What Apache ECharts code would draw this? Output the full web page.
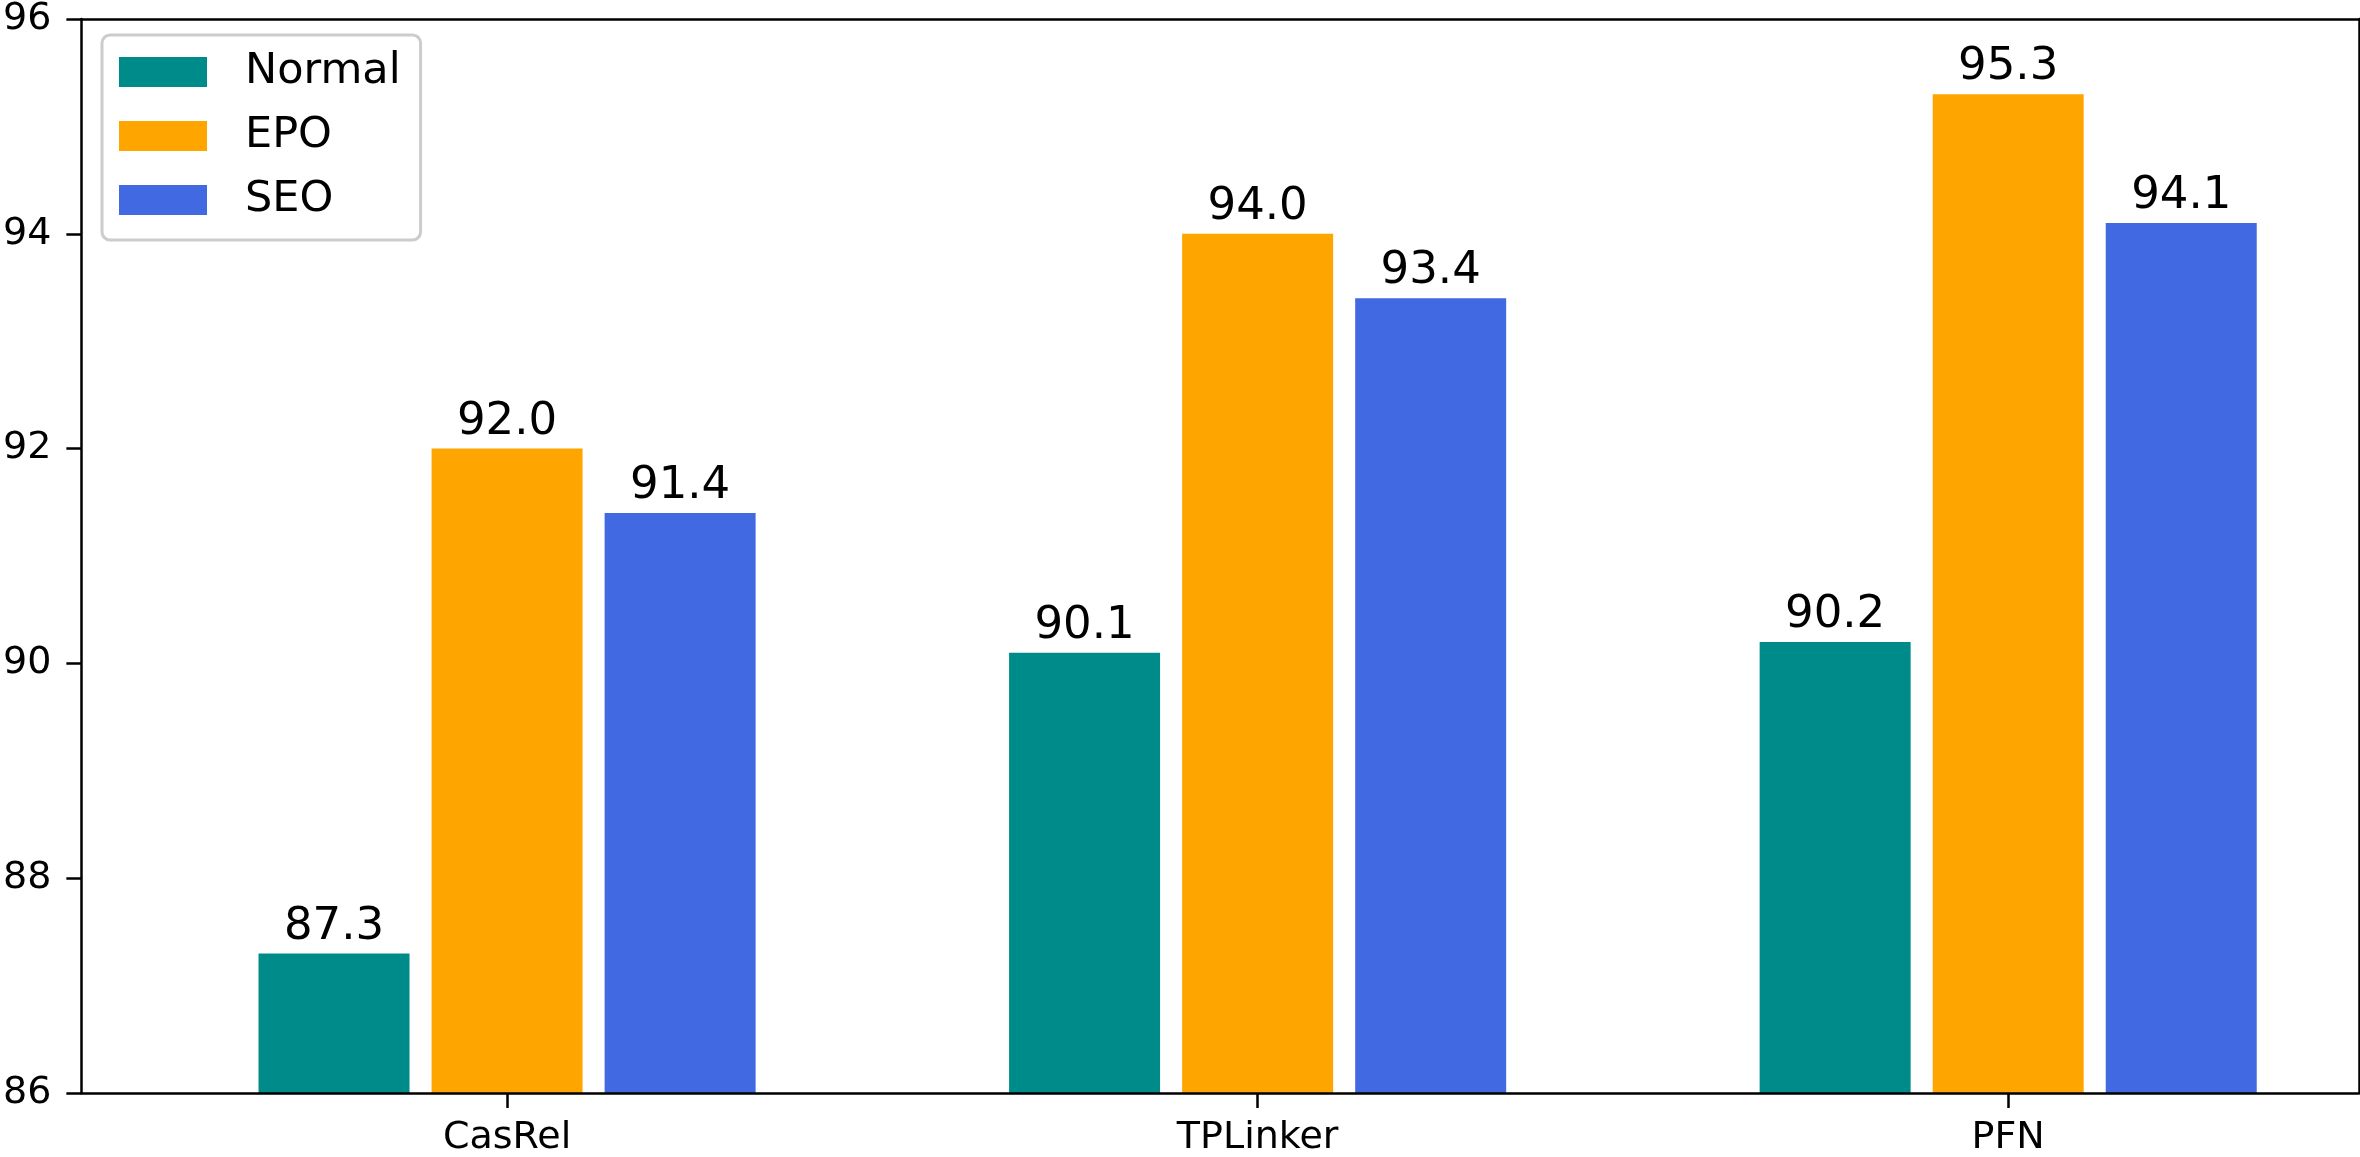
<!DOCTYPE html>
<html>
<head>
<meta charset="utf-8">
<script src="https://cdn.jsdelivr.net/npm/echarts@6/dist/echarts.min.js"></script>
<style>
  html, body { margin: 0; padding: 0; background: #fff; }
  #chart { width: 2360px; height: 1157px; }
</style>
</head>
<body>
<div id="chart"></div>
<script>
var categories = ['CasRel', 'TPLinker', 'PFN'];
var normal = [87.3, 90.1, 90.2];
var epo = [92.0, 94.0, 95.3];
var seo = [91.4, 93.4, 94.1];
var yTicks = [86, 88, 90, 92, 94, 96];
var xTicks = [0, 1, 2]; // category positions

var font = 'DejaVu Sans';
var chart = echarts.init(document.getElementById('chart'));

function barSeries(name, values, color) {
    return {
        type: 'bar',
        name: name,
        data: values.map(function (v, i) { return [xTicks[i], v] }),
        barWidth: 151,
        barGap: '14.6%',
        itemStyle: { color: color },
        label: {
            show: true,
            position: 'top',
            distance: 4,
            fontFamily: font,
            fontSize: 45,
            color: '#000',
            formatter: function (p) { return p.value[1].toFixed(1) }
        }
    }
}

var frameLine = { show: true, onZero: false, lineStyle: { color: '#000', width: 2.5 } };
var tickStyle = { color: '#000', width: 2.5 };

chart.setOption({
    animation: false,
    backgroundColor: '#fff',
    legend: {
        left: 102,
        top: 35,
        orient: 'vertical',
        padding: [15, 20, 18, 17],
        itemWidth: 88,
        itemHeight: 30,
        itemGap: 20,
        borderColor: '#cccccc',
        borderWidth: 3,
        borderRadius: 8,
        backgroundColor: '#fff',
        icon: 'rect',
        textStyle: {
            fontFamily: font,
            fontSize: 43,
            lineHeight: 44,
            color: '#000',
            padding: [0, 0, 0, 33]
        },
        data: ['Normal', 'EPO', 'SEO']
    },
    grid: { left: 80, right: 1, top: 15, bottom: 63 },
    xAxis: [
        { type: 'value', min: -0.5672, max: 2.4674, position: 'bottom', z: 10,
          axisLine: frameLine,
          axisTick: { show: true, length: 15, lineStyle: tickStyle, customValues: xTicks },
          axisLabel: { fontFamily: font, fontSize: 38, color: '#000', margin: 26,
                       customValues: xTicks,
                       formatter: function (v) { return categories[Math.round(v)] } },
          splitLine: { show: false } },
        { type: 'value', min: -0.5672, max: 2.4674, position: 'top', z: 10,
          axisLine: frameLine, axisTick: { show: false }, axisLabel: { show: false }, splitLine: { show: false } }
    ],
    yAxis: [
        { type: 'value', min: 86, max: 96, interval: 2, position: 'left', z: 10,
          axisLine: frameLine,
          axisTick: { show: true, length: 15, lineStyle: tickStyle },
          axisLabel: { fontFamily: font, fontSize: 38, color: '#000', margin: 30,
                       customValues: yTicks },
          splitLine: { show: false } },
        { type: 'value', min: 86, max: 96, position: 'right', z: 10,
          axisLine: frameLine, axisTick: { show: false }, axisLabel: { show: false }, splitLine: { show: false } }
    ],
    series: [
        barSeries('Normal', normal, '#008B8B'),
        barSeries('EPO', epo, '#FFA500'),
        barSeries('SEO', seo, '#4169E1')
    ]
});
</script>
</body>
</html>
